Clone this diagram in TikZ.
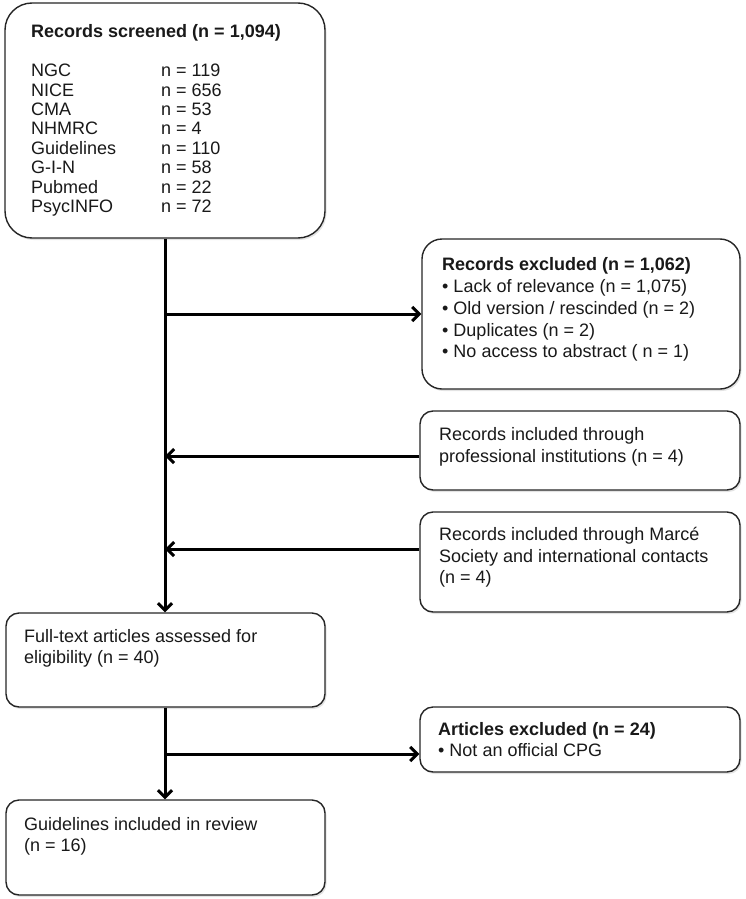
\documentclass[tikz,border=0pt]{standalone}
\usepackage{fontspec}
\setmainfont{Liberation Sans}
\usetikzlibrary{arrows.meta,shadows}
\begin{document}
\begin{tikzpicture}[x=1pt,y=-1pt,
  box/.style={draw=black!85, line width=1.4pt, fill=white, inner sep=0pt,
    drop shadow={shadow xshift=1.5pt, shadow yshift=-2pt, opacity=0.22}},
  txt/.style={anchor=north west, inner sep=0pt, align=left, text=black!90,
    font=\fontsize{18}{21.7}\selectfont},
  listtxt/.style={txt, font=\fontsize{18}{19.4}\selectfont},
  arr/.style={line width=3pt, -{Straight Barb[length=7pt,width=14pt]}}]
\useasboundingbox (0,0) rectangle (746,899);

% boxes
\node[box, rounded corners=27pt, minimum width=320pt, minimum height=235pt] (b1) at (165,120.5) {};
\node[box, rounded corners=20pt, minimum width=318pt, minimum height=150pt] (b2) at (581,314) {};
\node[box, rounded corners=13pt, minimum width=320pt, minimum height=79pt] (b3) at (580,450.5) {};
\node[box, rounded corners=13pt, minimum width=320pt, minimum height=100pt] (b4) at (580,562) {};
\node[box, rounded corners=13pt, minimum width=319pt, minimum height=94pt] (b5) at (165.5,660) {};
\node[box, rounded corners=13pt, minimum width=319pt, minimum height=95pt] (b6) at (165.5,847.5) {};
\node[box, rounded corners=13pt, minimum width=320pt, minimum height=65pt] (b7) at (580,739.5) {};

% texts
\node[txt] (t1) at (31,24.3) {\bfseries Records screened (n = 1,094)};
\node[listtxt] (t1a) at (31,64) {NGC\\NICE\\CMA\\NHMRC\\Guidelines\\G-I-N\\Pubmed\\PsycINFO};
\node[listtxt] (t1b) at (161,64) {n = 119\\n = 656\\n = 53\\n = 4\\n = 110\\n = 58\\n = 22\\n = 72};
\node[txt] (t2) at (442,257.7) {{\bfseries Records excluded (n = 1,062)}\\• Lack of relevance (n = 1,075)\\• Old version / rescinded (n = 2)\\• Duplicates (n = 2)\\• No access to abstract ( n = 1)};
\node[txt] (t3) at (439,427.7) {Records included through\\professional institutions (n = 4)};
\node[txt] (t4) at (439,527) {Records included through Marcé\\Society and international contacts\\(n = 4)};
\node[txt] (t5) at (24,629) {Full-text articles assessed for\\eligibility (n = 40)};
\node[txt] (t6) at (24,817) {Guidelines included in review\\(n = 16)};
\node[txt] (t7) at (438,722) {{\bfseries Articles excluded (n = 24)}\\• Not an official CPG};

% connectors
\coordinate (mx) at (165,0);
\coordinate (j1) at (165,314);
\coordinate (j2) at (165,456);
\coordinate (j3) at (165,549);
\coordinate (j4) at (165,754);
\draw[arr] (b1.south -| mx) -- (b5.north -| mx);
\draw[arr] (j1) -- (j1 -| b2.west);
\draw[arr] (j2 -| b3.west) -- (j2);
\draw[arr] (j3 -| b4.west) -- (j3);
\draw[arr] (b5.south -| mx) -- (b6.north -| mx);
\draw[arr] (j4) -- (j4 -| b7.west);
\end{tikzpicture}
\end{document}
